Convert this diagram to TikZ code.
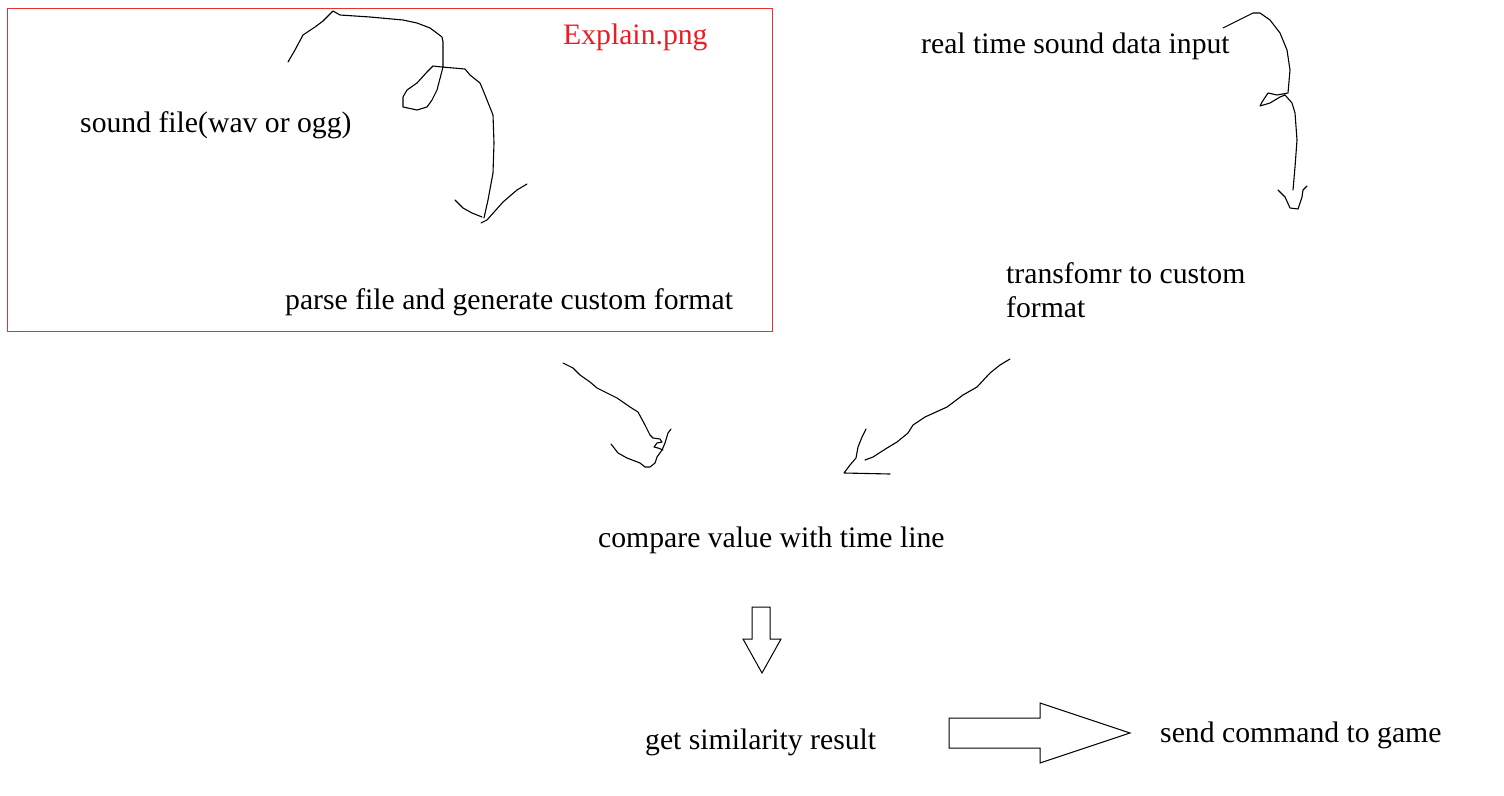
\documentclass[tikz,border=0pt]{standalone}
\usepackage{fontspec}
\setmainfont{Liberation Serif}
\definecolor{paintred}{RGB}{237,28,36}
\definecolor{boxred}{RGB}{230,50,50}
\tikzset{
  lbl/.style={anchor=base west, inner sep=0pt, font=\fontsize{29.7}{34}\selectfont, text=black},
  hand/.style={draw=black, line width=1.1pt, line join=round, line cap=round},
  blockarrow/.style={draw=black, line width=1pt, fill=white, line join=miter},
}
\begin{document}
\begin{tikzpicture}[x=1pt,y=-1pt]
\useasboundingbox (0,0) rectangle (1504,795);
\fill[white] (0,0) rectangle (1504,795);

% red frame
\draw[boxred, line width=1pt] (7,8) rectangle (772,331);

% texts
\node[lbl, text=paintred] (explain) at (563,44) {Explain.png};
\node[lbl] (sound) at (80,132) {sound file(wav or ogg)};
\node[lbl] (parse) at (285,309) {parse file and generate custom format};
\node[lbl] (realtime) at (921,53) {real time sound data input};
\node[lbl, align=left] (transform) at (1006,317) {transfomr to custom\\format};
\node[lbl] (compare) at (598,547) {compare value with time line};
\node[lbl] (similar) at (645,749) {get similarity result};
\node[lbl] (send) at (1160,742) {send command to game};

% hand-drawn arrow: sound file -> parse file
\draw[hand] (288,62) -- (295,50) -- (303,35) -- (315,27) -- (323,21) -- (333,11) -- (340,15)
  -- (370,17) -- (403,20) -- (417,23) -- (430,28) -- (442,37) -- (443,42) -- (443,67)
  -- (437,90) -- (432,100) -- (427,107) -- (417,110) -- (403,107) -- (403,97) -- (407,90)
  -- (417,83) -- (427,72) -- (433,66) -- (442,67) -- (465,69) -- (470,75) -- (480,83)
  -- (483,90) -- (493,115) -- (494,143) -- (493,173) -- (488,200) -- (484,218);
\draw[hand] (455,200) -- (463,208) -- (472,213) -- (482,217);
\draw[hand] (481,223) -- (487,220) -- (503,202) -- (517,190) -- (527,184);

% hand-drawn arrow: real time input -> transform
\draw[hand] (1223,28) -- (1233,23) -- (1253,13) -- (1260,13) -- (1270,20) -- (1280,33)
  -- (1287,50) -- (1290,70) -- (1288,93) -- (1277,95) -- (1268,93) -- (1262,102)
  -- (1260,106) -- (1270,103) -- (1280,97) -- (1285,95) -- (1292,103) -- (1295,113)
  -- (1297,140) -- (1295,167) -- (1293,190);
\draw[hand] (1278,190) -- (1285,197) -- (1290,208) -- (1298,209) -- (1302,197)
  -- (1303,190) -- (1307,186);

% hand-drawn arrow: parse -> compare
\draw[hand] (563,363) -- (573,368) -- (580,375) -- (590,382) -- (597,388) -- (617,398)
  -- (630,407) -- (638,412) -- (645,425) -- (650,435) -- (653,438) -- (660,439)
  -- (662,442) -- (657,443) -- (654,447) -- (658,448) -- (663,450);
\draw[hand] (671,429) -- (668,433) -- (665,443) -- (662,450) -- (657,457) -- (655,463)
  -- (650,467) -- (645,467) -- (640,463) -- (627,458) -- (618,453) -- (611,444);

% hand-drawn arrow: transform -> compare
\draw[hand] (1010,359) -- (1000,365) -- (990,373) -- (977,387) -- (963,395) -- (947,407)
  -- (925,417) -- (913,425) -- (908,433) -- (897,442) -- (887,448) -- (873,457) -- (865,460);
\draw[hand] (866,429) -- (862,437) -- (858,447) -- (856,458) -- (850,465) -- (844,473)
  -- (890,474);

% block arrow down: compare -> similarity
\draw[blockarrow] (752,607) -- (770,607) -- (770,639) -- (781,639) -- (762,673)
  -- (743,639) -- (752,639) -- cycle;

% block arrow right: similarity -> send
\draw[blockarrow] (949,718) -- (1040,718) -- (1040,703) -- (1130,733) -- (1040,763)
  -- (1040,748) -- (949,748) -- cycle;
\end{tikzpicture}
\end{document}
